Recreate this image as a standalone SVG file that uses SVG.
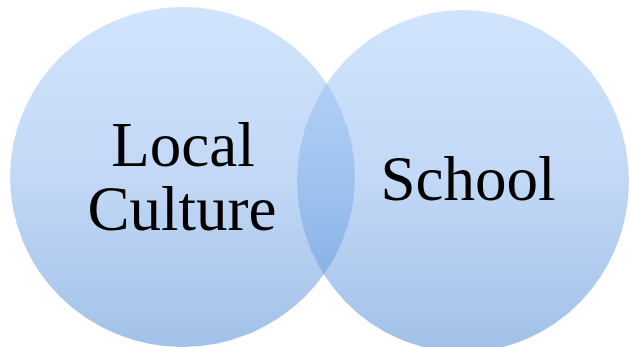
<svg xmlns="http://www.w3.org/2000/svg" width="630" height="347" viewBox="0 0 630 347">
  <style>
    .lbl { font-family: "Liberation Serif", "Times New Roman", serif; font-size: 63px; fill: #000; text-anchor: middle; }
  </style>
  <defs>
    <linearGradient id="g" gradientUnits="userSpaceOnUse" x1="0" y1="7" x2="0" y2="347">
      <stop offset="0" stop-color="#d1e4fc"/>
      <stop offset="0.5" stop-color="#c2d8f6"/>
      <stop offset="1" stop-color="#a2c1e8"/>
    </linearGradient>
    <linearGradient id="gl" gradientUnits="userSpaceOnUse" x1="0" y1="83" x2="0" y2="278">
      <stop offset="0" stop-color="#b0cff5"/>
      <stop offset="0.5" stop-color="#9fc3ef"/>
      <stop offset="1" stop-color="#88b2e6"/>
    </linearGradient>
    <clipPath id="clipL">
      <ellipse cx="182.5" cy="177" rx="172.5" ry="170"/>
    </clipPath>
  </defs>
  <rect width="630" height="347" fill="#ffffff"/>
  <g id="local-culture">
    <ellipse cx="182.5" cy="177" rx="172.5" ry="170" fill="url(#g)"/>
  </g>
  <g id="school">
    <ellipse cx="463" cy="181" rx="166" ry="171" fill="url(#g)"/>
  </g>
  <g id="overlap">
    <ellipse cx="463" cy="181" rx="166" ry="171" fill="url(#gl)" clip-path="url(#clipL)"/>
  </g>
  <g id="labels">
    <text class="lbl" x="183" y="166">Local</text>
    <text class="lbl" x="182" y="230">Culture</text>
    <text class="lbl" x="468" y="200">School</text>
  </g>
</svg>
